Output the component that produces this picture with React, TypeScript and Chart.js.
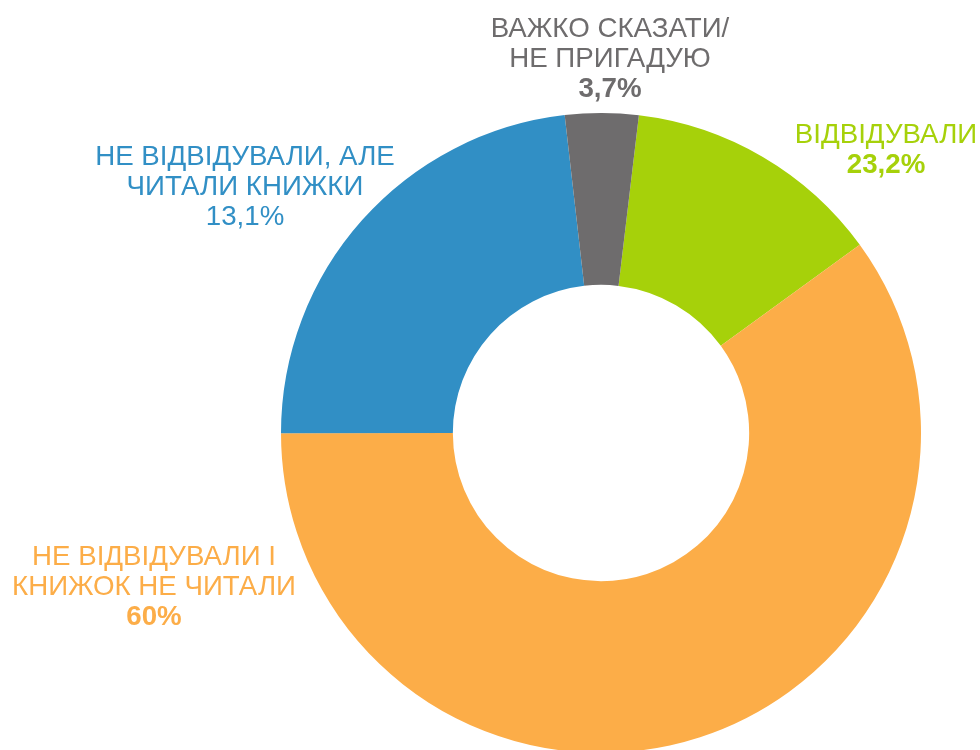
import React, { useEffect, useRef } from "react";
import { Chart, registerables } from "chart.js";

Chart.register(...registerables);

const categories = [
  ["ВІДВІДУВАЛИ"],
  ["НЕ ВІДВІДУВАЛИ І", "КНИЖОК НЕ ЧИТАЛИ"],
  ["НЕ ВІДВІДУВАЛИ, АЛЕ", "ЧИТАЛИ КНИЖКИ"],
  ["ВАЖКО СКАЗАТИ/", "НЕ ПРИГАДУЮ"],
];
const sliceValues = [13.1, 60, 23.2, 3.7];
const percentLabels = ["23,2%", "60%", "13,1%", "3,7%"];
const percentBold = [true, true, false, true];
const colors = ["#A6D10A", "#FCAD48", "#318FC5", "#6E6C6D"];
const labelAnchors = [
  { x: 886, y: 143 },
  { x: 154, y: 565 },
  { x: 245, y: 165 },
  { x: 610, y: 37 },
];

const labelPlugin = {
  id: "outerLabels",
  afterDraw(chart: any) {
    const ctx = chart.ctx;
    ctx.save();
    ctx.textAlign = "center";
    ctx.textBaseline = "alphabetic";
    const fs = 27.7;
    const lh = 30;
    categories.forEach((lines, i) => {
      const a = labelAnchors[i];
      ctx.fillStyle = colors[i];
      const all = [...lines, percentLabels[i]];
      all.forEach((t, j) => {
        const bold = j === all.length - 1 && percentBold[i];
        ctx.font = `${bold ? "bold " : ""}${fs}px "Liberation Sans", Arial, sans-serif`;
        ctx.fillText(t, a.x, a.y + j * lh);
      });
    });
    ctx.restore();
  },
};

export default function App() {
  const ref = useRef<HTMLCanvasElement>(null);
  useEffect(() => {
    document.body.style.margin = "0";
    document.body.style.overflow = "hidden";
    const chart = new Chart(ref.current!, {
      type: "doughnut",
      data: {
        labels: categories.map((c) => c.join(" ")),
        datasets: [
          {
            data: sliceValues,
            backgroundColor: colors,
            borderColor: "#ffffff",
            borderWidth: 0,
          },
        ],
      },
      options: {
        responsive: false,
        animation: false,
        devicePixelRatio: 1,
        cutout: "46.3%",
        rotation: 6.8,
        layout: { padding: { left: 281, right: 59, top: 113, bottom: 7 } },
        plugins: {
          legend: { display: false },
          tooltip: { enabled: false },
        },
      },
      plugins: [labelPlugin],
    });
    return () => chart.destroy();
  }, []);
  return (
    <div style={{ width: 980, height: 750, overflow: "hidden" }}>
      <canvas ref={ref} width={980} height={760} style={{ display: "block" }} />
    </div>
  );
}
